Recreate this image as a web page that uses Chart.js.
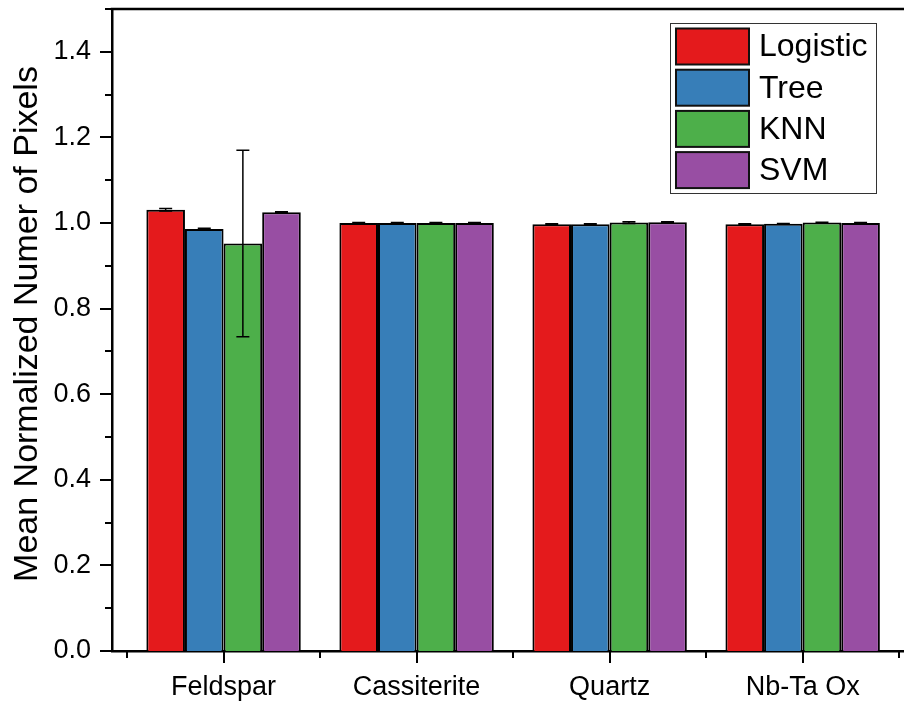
<!DOCTYPE html>
<html>
<head>
<meta charset="utf-8">
<script src="https://cdn.jsdelivr.net/npm/chart.js@4.4.1/dist/chart.umd.min.js"></script>
<style>
  body { margin: 0; background: #fff; }
  #caja { width: 904px; height: 705px; }
</style>
</head>
<body>
<div id="caja"><canvas id="grafico"></canvas></div>
<script>
// datos
const categorias = ['Feldspar', 'Cassiterite', 'Quartz', 'Nb-Ta Ox']
const modelos = ['Logistic', 'Tree', 'KNN', 'SVM']
const colores = ['#E41A1C', '#377EB8', '#4DAF4A', '#984EA3']

const logistic = [1.031, 1.000, 0.997, 0.997]
const tree = [0.986, 1.000, 0.997, 0.998]
const knn = [0.952, 1.000, 1.001, 1.001]
const svm = [1.025, 1.000, 1.002, 1.000]

const errLogistic = [0.003, 0.001, 0.001, 0.001]
const errTree = [0.002, 0.001, 0.001, 0.001]
const errKnn = [0.218, 0.001, 0.002, 0.001]
const errSvm = [0.001, 0.001, 0.001, 0.001]

const yTicks = [0, 0.2, 0.4, 0.6, 0.8, 1.0, 1.2, 1.4]
const tituloY = 'Mean Normalized Numer of Pixels'

const series = [logistic, tree, knn, svm]
const errores = [errLogistic, errTree, errKnn, errSvm]

const fuente = "Arial, 'Liberation Sans', sans-serif"

// barras de error
const errorBars = {
    id: 'errorBars',
    afterDatasetsDraw(chart) {
        const ctx = chart.ctx
        const y = chart.scales.y
        ctx.save()
        ctx.strokeStyle = '#000'
        ctx.lineWidth = 1.5
        chart.data.datasets.forEach((ds, i) => {
            const meta = chart.getDatasetMeta(i)
            meta.data.forEach((bar, j) => {
                const v = series[i][j], e = errores[i][j]
                const yt = y.getPixelForValue(v + e)
                const yb = y.getPixelForValue(v - e)
                ctx.beginPath()
                ctx.moveTo(bar.x, yt); ctx.lineTo(bar.x, yb)
                ctx.moveTo(bar.x - 6.5, yt); ctx.lineTo(bar.x + 6.5, yt)
                ctx.moveTo(bar.x - 6.5, yb); ctx.lineTo(bar.x + 6.5, yb)
                ctx.stroke()
            })
        })
        ctx.restore()
    }
}

// marcas de los ejes, borde superior, título y leyenda
const extras = {
    id: 'extras',
    afterDraw(chart) {
        const ctx = chart.ctx
        const a = chart.chartArea
        const x = chart.scales.x, y = chart.scales.y
        ctx.save()
        ctx.strokeStyle = '#000'
        ctx.lineWidth = 2.5
        ctx.beginPath()
        ctx.moveTo(a.left - 1.25, a.top); ctx.lineTo(a.right, a.top)
        ctx.stroke()

        ctx.lineWidth = 2
        ctx.beginPath()
        for (let v = 0; v <= 15; v++) {
            const py = Math.round(y.getPixelForValue(v / 10))
            const len = v % 2 === 0 ? 12 : 7
            ctx.moveTo(a.left, py); ctx.lineTo(a.left - len, py)
        }
        for (let k = 0; k <= 9; k++) {
            const val = 0.5 + k * 0.5
            if (val > x.max) break
            const px = Math.round(x.getPixelForValue(val))
            const len = k % 2 === 1 ? 12 : 7
            ctx.moveTo(px, a.bottom); ctx.lineTo(px, a.bottom + len)
        }
        ctx.stroke()

        // título del eje y
        ctx.save()
        ctx.translate(28, 324)
        ctx.rotate(-Math.PI / 2)
        ctx.font = '34px ' + fuente
        ctx.fillStyle = '#000'
        ctx.textAlign = 'center'
        ctx.textBaseline = 'middle'
        ctx.fillText(tituloY, 0, 0)
        ctx.restore()

        // leyenda
        ctx.lineWidth = 1
        ctx.strokeStyle = '#333'
        ctx.strokeRect(670.5, 23.5, 206, 170)
        ctx.font = '32px ' + fuente
        ctx.textBaseline = 'middle'
        modelos.forEach((m, i) => {
            const top = 28.5 + i * 41.2
            ctx.fillStyle = colores[i]
            ctx.fillRect(676, top, 73, 36)
            ctx.lineWidth = 2
            ctx.strokeStyle = '#111'
            ctx.strokeRect(676, top, 73, 36)
            ctx.fillStyle = '#000'
            ctx.fillText(m, 759, top + 19)
        })
        ctx.restore()
    }
}

const datasets = modelos.map((m, i) => ({
    label: m,
    data: series[i].map((v, j) => ({ x: j + 1, y: v })),
    backgroundColor: colores[i],
    borderColor: '#000',
    borderWidth: 2,
    categoryPercentage: 0.8,
    barPercentage: 1.0
}))

const grafico = new Chart(document.getElementById('grafico'), {
    type: 'bar',
    data: { datasets: datasets },
    options: {
        responsive: true,
        maintainAspectRatio: false,
        animation: false,
        layout: { padding: { top: 9, right: 0, left: 0, bottom: 0 } },
        plugins: { legend: { display: false }, tooltip: { enabled: false } },
        scales: {
            x: {
                type: 'linear',
                offset: false,
                min: 0.422,
                max: 4.525,
                grid: { display: false, drawTicks: false, offset: false },
                border: { display: true, color: '#000', width: 2.5 },
                afterBuildTicks: s => { s.ticks = categorias.map((c, i) => ({ value: i + 1 })) },
                afterFit: s => { s.height = 54; s.paddingLeft = 0; s.paddingRight = 0 },
                ticks: {
                    autoSkip: false,
                    maxRotation: 0,
                    padding: 20,
                    color: '#000',
                    font: { family: fuente, size: 27 },
                    callback: v => categorias[Math.round(v) - 1]
                }
            },
            y: {
                min: 0,
                max: 1.5,
                grid: { display: false, drawTicks: false },
                border: { display: true, color: '#000', width: 2.5 },
                afterBuildTicks: s => { s.ticks = yTicks.map(v => ({ value: v })) },
                afterFit: s => { s.width = 112; s.paddingTop = 0; s.paddingBottom = 0 },
                ticks: {
                    padding: 21,
                    color: '#000',
                    font: { family: fuente, size: 27 },
                    callback: v => Number(v).toFixed(1)
                }
            }
        }
    },
    plugins: [errorBars, extras]
})
</script>
</body>
</html>
